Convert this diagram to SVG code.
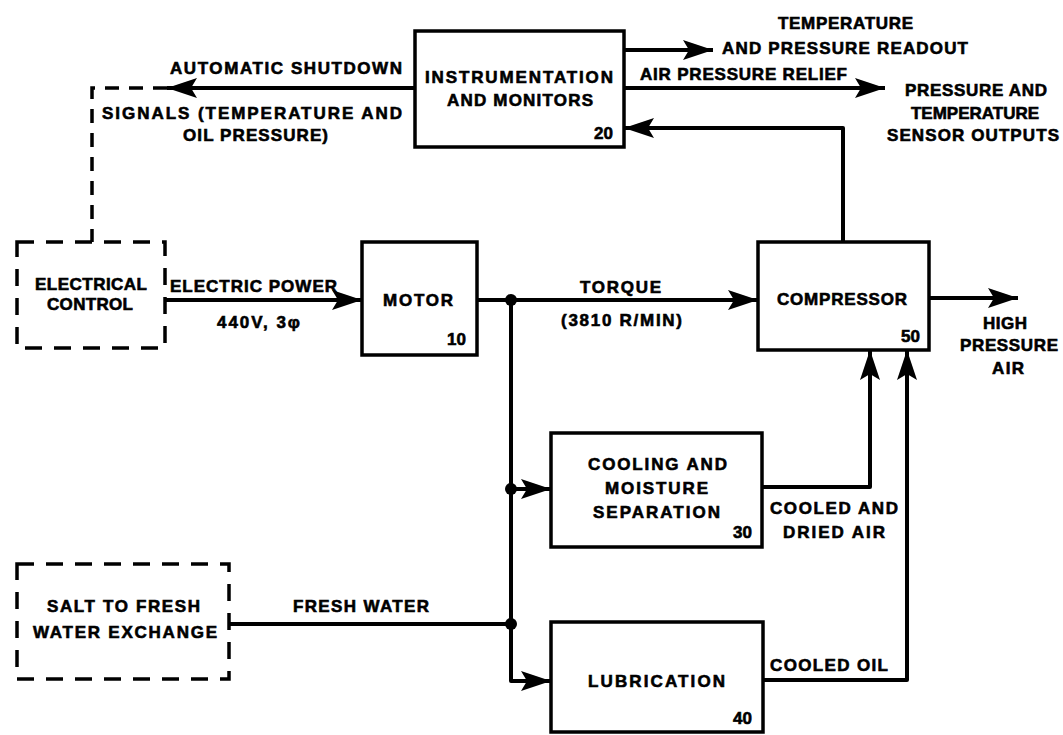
<svg xmlns="http://www.w3.org/2000/svg" width="1063" height="735" viewBox="0 0 1063 735">
<style>
.box{fill:#fff;stroke:#000;stroke-width:3.5}
.dbox{fill:#fff;stroke:#000;stroke-width:3.5;stroke-dasharray:17 12}
.ln{fill:none;stroke:#000;stroke-width:4;stroke-linejoin:round}
.dl{fill:none;stroke:#000;stroke-width:3.5;stroke-dasharray:14 10}
text{font-family:"Liberation Sans",Arial,sans-serif;font-weight:bold;font-size:17px;fill:#000;stroke:#000;stroke-width:0.6}
</style>
<defs>
<marker id="ah" markerUnits="userSpaceOnUse" markerWidth="32" markerHeight="22" refX="30" refY="10" orient="auto" viewBox="0 0 32 22">
<path d="M0,0 L30,10 L0,20 L6,10 z" fill="#000"/>
</marker>
</defs>
<rect width="1063" height="735" fill="#fff"/>
<g id="connectors">
<path class="ln" d="M415,88 H167" marker-end="url(#ah)"/>
<path class="dl" d="M167,88 H92 V242"/>
<path class="ln" d="M165,300 H362" marker-end="url(#ah)"/>
<path class="ln" d="M477,300 H758" marker-end="url(#ah)"/>
<path class="ln" d="M929,298 H1018" marker-end="url(#ah)"/>
<path class="ln" d="M624,50 H713" marker-end="url(#ah)"/>
<path class="ln" d="M624,88 H885" marker-end="url(#ah)"/>
<path class="ln" d="M843,242 V128 H624" marker-end="url(#ah)"/>
<path class="ln" d="M511,300 V681 H551" marker-end="url(#ah)"/>
<path class="ln" d="M511,489 H551" marker-end="url(#ah)"/>
<path class="ln" d="M762,487 H870 V350" marker-end="url(#ah)"/>
<path class="ln" d="M763,680 H907 V350" marker-end="url(#ah)"/>
<path class="ln" d="M229,624 H511"/>
<circle cx="511" cy="300" r="6"/>
<circle cx="511" cy="489" r="6"/>
<circle cx="511" cy="624" r="6"/>
<text x="170" y="74" textLength="232" lengthAdjust="spacing">AUTOMATIC SHUTDOWN</text>
<text x="102" y="119" textLength="300" lengthAdjust="spacing">SIGNALS (TEMPERATURE AND</text>
<text x="183" y="141" textLength="145" lengthAdjust="spacing">OIL PRESSURE)</text>
<text x="778" y="29" textLength="135" lengthAdjust="spacing">TEMPERATURE</text>
<text x="722" y="54" textLength="246" lengthAdjust="spacing">AND PRESSURE READOUT</text>
<text x="640" y="80" textLength="207" lengthAdjust="spacing">AIR PRESSURE RELIEF</text>
<text x="905" y="96" textLength="142" lengthAdjust="spacing">PRESSURE AND</text>
<text x="911" y="119" textLength="128" lengthAdjust="spacing">TEMPERATURE</text>
<text x="887" y="141" textLength="172" lengthAdjust="spacing">SENSOR OUTPUTS</text>
<text x="170" y="292" textLength="167" lengthAdjust="spacing">ELECTRIC POWER</text>
<text x="217" y="328" textLength="83" lengthAdjust="spacing">440V, 3φ</text>
<text x="580" y="293" textLength="81" lengthAdjust="spacing">TORQUE</text>
<text x="561" y="326" textLength="121" lengthAdjust="spacing">(3810 R/MIN)</text>
<text x="983" y="329" textLength="44" lengthAdjust="spacing">HIGH</text>
<text x="960" y="351" textLength="98" lengthAdjust="spacing">PRESSURE</text>
<text x="992" y="374" textLength="32" lengthAdjust="spacing">AIR</text>
<text x="770" y="514" textLength="128" lengthAdjust="spacing">COOLED AND</text>
<text x="783" y="538" textLength="102" lengthAdjust="spacing">DRIED AIR</text>
<text x="770" y="671" textLength="118" lengthAdjust="spacing">COOLED OIL</text>
<text x="293" y="612" textLength="136" lengthAdjust="spacing">FRESH WATER</text>
</g>
<g id="instrumentation">
<rect class="box" x="415" y="31" width="209" height="116"/>
<text x="425" y="83" textLength="188" lengthAdjust="spacing">INSTRUMENTATION</text>
<text x="447" y="106" textLength="146" lengthAdjust="spacing">AND MONITORS</text>
<text x="613" y="139" text-anchor="end">20</text>
</g>
<g id="electrical-control">
<rect class="dbox" x="17" y="242" width="148" height="106"/>
<text x="35" y="290" textLength="112" lengthAdjust="spacing">ELECTRICAL</text>
<text x="47" y="310" textLength="86" lengthAdjust="spacing">CONTROL</text>
</g>
<g id="motor">
<rect class="box" x="362" y="242" width="115" height="113"/>
<text x="383" y="306" textLength="70" lengthAdjust="spacing">MOTOR</text>
<text x="466" y="345" text-anchor="end">10</text>
</g>
<g id="compressor">
<rect class="box" x="758" y="242" width="171" height="108"/>
<text x="777" y="305" textLength="130" lengthAdjust="spacing">COMPRESSOR</text>
<text x="920" y="342" text-anchor="end">50</text>
</g>
<g id="cooling">
<rect class="box" x="551" y="433" width="211" height="114"/>
<text x="588" y="470" textLength="139" lengthAdjust="spacing">COOLING AND</text>
<text x="605" y="494" textLength="103" lengthAdjust="spacing">MOISTURE</text>
<text x="593" y="518" textLength="127" lengthAdjust="spacing">SEPARATION</text>
<text x="752" y="538" text-anchor="end">30</text>
</g>
<g id="lubrication">
<rect class="box" x="551" y="622" width="212" height="110"/>
<text x="588" y="687" textLength="137" lengthAdjust="spacing">LUBRICATION</text>
<text x="752" y="724" text-anchor="end">40</text>
</g>
<g id="salt-exchange">
<rect class="dbox" x="17" y="564" width="212" height="115"/>
<text x="47" y="612" textLength="153" lengthAdjust="spacing">SALT TO FRESH</text>
<text x="33" y="638" textLength="184" lengthAdjust="spacing">WATER EXCHANGE</text>
</g>
</svg>
